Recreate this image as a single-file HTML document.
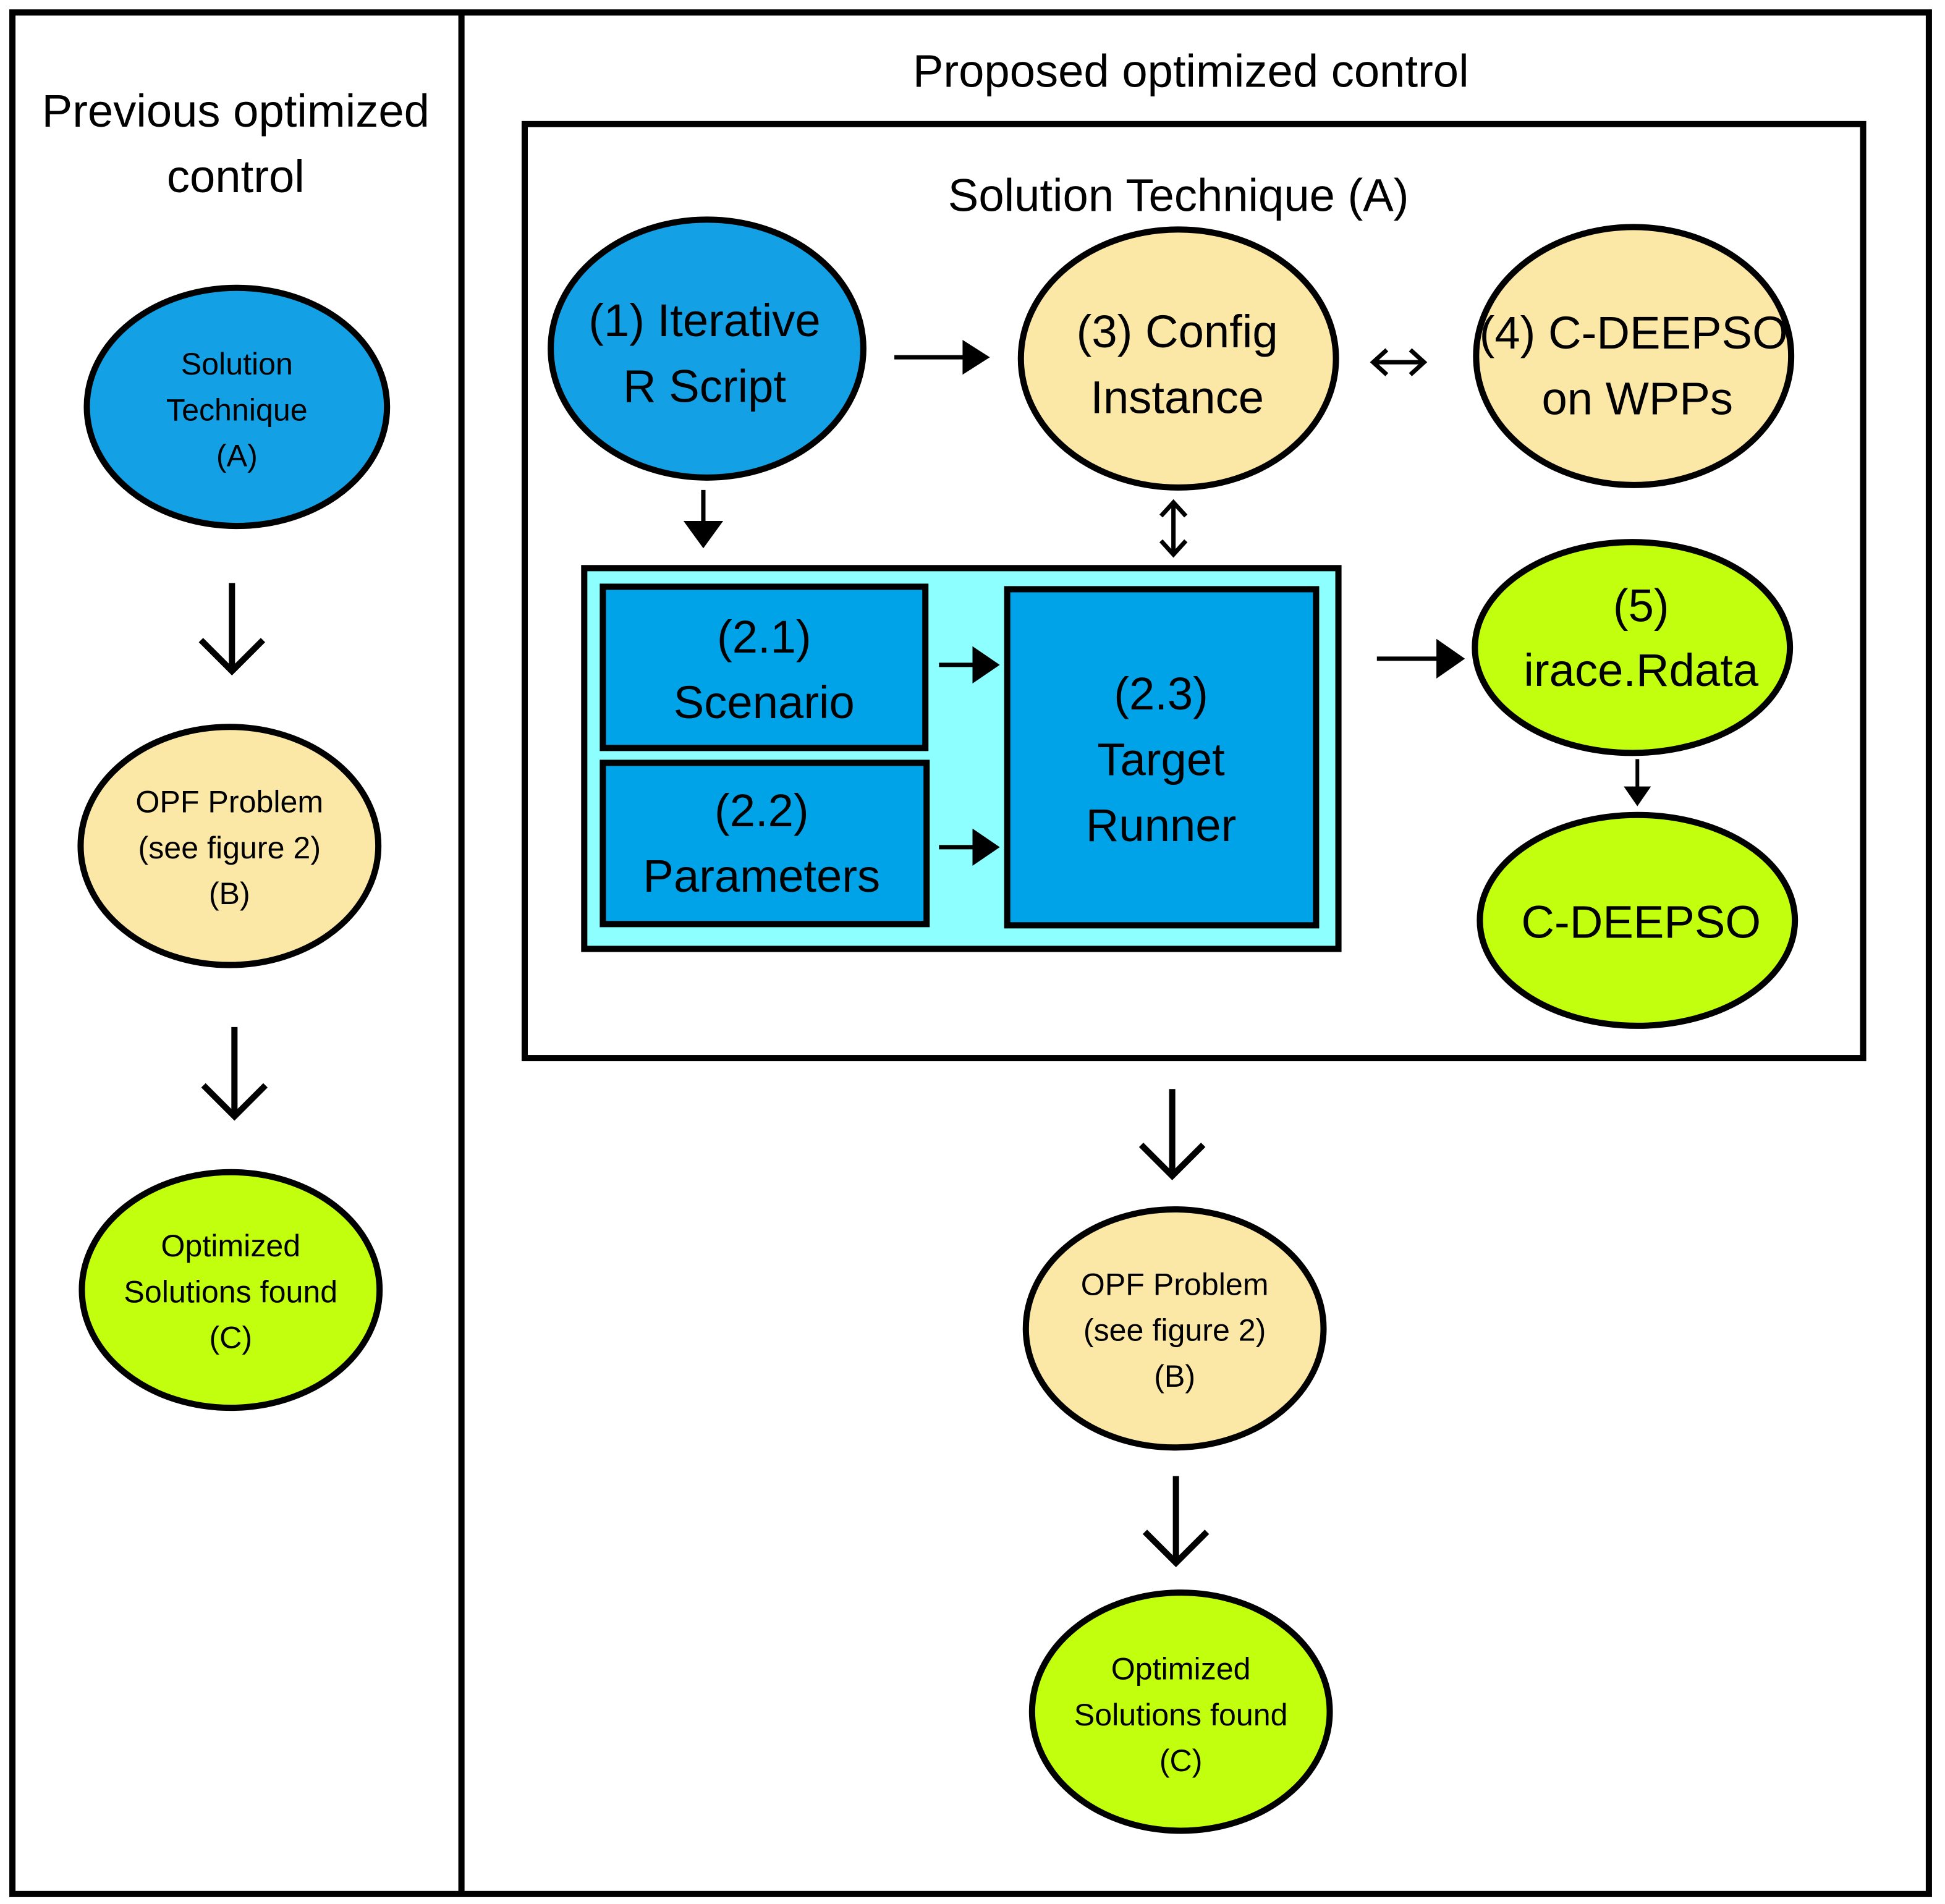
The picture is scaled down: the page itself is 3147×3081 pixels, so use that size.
<!DOCTYPE html>
<html><head><meta charset="utf-8"><style>
html,body{margin:0;padding:0;background:#fff}
svg{display:block}
text{font-family:"Liberation Sans",sans-serif;fill:#000;text-anchor:middle}
</style></head><body>
<svg width="3147" height="3081" viewBox="0 0 1568 1535" xmlns="http://www.w3.org/2000/svg">
<defs>
<marker id="ah" markerWidth="6" markerHeight="6" refX="5" refY="3" orient="auto-start-reverse" markerUnits="strokeWidth"><path d="M0,0 L6,3 L0,6 z" fill="#000"/></marker>
</defs>
<rect x="0" y="0" width="1568" height="1535" fill="#fff"/>
<rect x="10" y="10" width="1545" height="1517" fill="none" stroke="#000" stroke-width="5"/>
<line x1="372" y1="10" x2="372" y2="1527" stroke="#000" stroke-width="5"/>
<rect x="423" y="100" width="1079" height="753" fill="none" stroke="#000" stroke-width="5"/>

<text x="190" y="102" font-size="37">Previous optimized</text>
<text x="190" y="155" font-size="37">control</text>
<text x="960" y="70" font-size="37">Proposed optimized control</text>
<text x="950" y="170" font-size="37">Solution Technique (A)</text>

<!-- left column -->
<ellipse cx="191" cy="328" rx="121" ry="96" fill="#14a0e4" stroke="#000" stroke-width="5"/>
<text x="191" y="302" font-size="25">Solution</text>
<text x="191" y="339" font-size="25">Technique</text>
<text x="191" y="376" font-size="25">(A)</text>
<path d="M187 470 V541 M162 516 L187 541 L212 516" fill="none" stroke="#000" stroke-width="5"/>
<ellipse cx="185" cy="682" rx="120" ry="96" fill="#fbe8a6" stroke="#000" stroke-width="5"/>
<text x="185" y="655" font-size="25">OPF Problem</text>
<text x="185" y="692" font-size="25">(see figure 2)</text>
<text x="185" y="729" font-size="25">(B)</text>
<path d="M189 828 V900 M164 875 L189 900 L214 875" fill="none" stroke="#000" stroke-width="5"/>
<ellipse cx="186" cy="1040" rx="120" ry="95" fill="#c2ff0e" stroke="#000" stroke-width="5"/>
<text x="186" y="1013" font-size="25">Optimized</text>
<text x="186" y="1050" font-size="25">Solutions found</text>
<text x="186" y="1087" font-size="25">(C)</text>

<!-- right top -->
<ellipse cx="570" cy="281" rx="126" ry="104" fill="#14a0e4" stroke="#000" stroke-width="5"/>
<text x="568" y="271" font-size="37">(1) Iterative</text>
<text x="568" y="324" font-size="37">R Script</text>
<ellipse cx="950" cy="289" rx="127" ry="104" fill="#fbe8a6" stroke="#000" stroke-width="5"/>
<text x="949" y="280" font-size="37">(3) Config</text>
<text x="949" y="333" font-size="37">Instance</text>
<ellipse cx="1317" cy="287" rx="127" ry="104" fill="#fbe8a6" stroke="#000" stroke-width="5"/>
<text x="1317" y="281" font-size="37">(4) C-DEEPSO</text>
<text x="1320" y="334" font-size="37">on WPPs</text>

<line x1="721" y1="288" x2="780" y2="288" stroke="#000" stroke-width="3.5"/>
<path d="M776 274 L798 288 L776 302 z"/>
<path d="M1108 292 H1147 M1118 282 L1107 292 L1118 302 M1137 282 L1148 292 L1137 302" fill="none" stroke="#000" stroke-width="3.5"/>
<path d="M946 405 V447 M936 416 L946 405 L956 416 M936 436 L946 447 L956 436" fill="none" stroke="#000" stroke-width="3.5"/>
<line x1="567" y1="395" x2="567" y2="426" stroke="#000" stroke-width="3.5"/>
<path d="M551 420 L567 442 L583 420 z"/>

<!-- cyan group -->
<rect x="471" y="458" width="608" height="307" fill="#8effff" stroke="#000" stroke-width="5"/>
<rect x="486" y="473" width="260" height="130" fill="#00a2e8" stroke="#000" stroke-width="5"/>
<text x="616" y="526" font-size="37">(2.1)</text>
<text x="616" y="579" font-size="37">Scenario</text>
<rect x="486" y="615" width="261" height="130" fill="#00a2e8" stroke="#000" stroke-width="5"/>
<text x="614" y="666" font-size="37">(2.2)</text>
<text x="614" y="719" font-size="37">Parameters</text>
<rect x="812" y="475" width="249" height="271" fill="#00a2e8" stroke="#000" stroke-width="5"/>
<text x="936" y="572" font-size="37">(2.3)</text>
<text x="936" y="625" font-size="37">Target</text>
<text x="936" y="678" font-size="37">Runner</text>
<line x1="757" y1="536" x2="790" y2="536" stroke="#000" stroke-width="3.5"/>
<path d="M784 521 L806 536 L784 551 z"/>
<line x1="757" y1="683" x2="790" y2="683" stroke="#000" stroke-width="3.5"/>
<path d="M784 668 L806 683 L784 698 z"/>
<line x1="1110" y1="531" x2="1162" y2="531" stroke="#000" stroke-width="3.5"/>
<path d="M1158 515 L1181 531 L1158 547 z"/>

<ellipse cx="1316" cy="522" rx="127" ry="85" fill="#c2ff0e" stroke="#000" stroke-width="5"/>
<text x="1323" y="501" font-size="37">(5)</text>
<text x="1323" y="553" font-size="37">irace.Rdata</text>
<line x1="1320" y1="612" x2="1320" y2="638" stroke="#000" stroke-width="3"/>
<path d="M1309 634 L1320 650 L1331 634 z"/>
<ellipse cx="1320" cy="742" rx="127" ry="85" fill="#c2ff0e" stroke="#000" stroke-width="5"/>
<text x="1323" y="756" font-size="37">C-DEEPSO</text>

<!-- bottom right -->
<path d="M945 878 V948 M920 923 L945 948 L970 923" fill="none" stroke="#000" stroke-width="5"/>
<ellipse cx="947" cy="1071" rx="120" ry="96" fill="#fbe8a6" stroke="#000" stroke-width="5"/>
<text x="947" y="1044" font-size="25">OPF Problem</text>
<text x="947" y="1081" font-size="25">(see figure 2)</text>
<text x="947" y="1118" font-size="25">(B)</text>
<path d="M948 1190 V1260 M923 1235 L948 1260 L973 1235" fill="none" stroke="#000" stroke-width="5"/>
<ellipse cx="952" cy="1380" rx="120" ry="96" fill="#c2ff0e" stroke="#000" stroke-width="5"/>
<text x="952" y="1354" font-size="25">Optimized</text>
<text x="952" y="1391" font-size="25">Solutions found</text>
<text x="952" y="1428" font-size="25">(C)</text>
</svg>
</body></html>
